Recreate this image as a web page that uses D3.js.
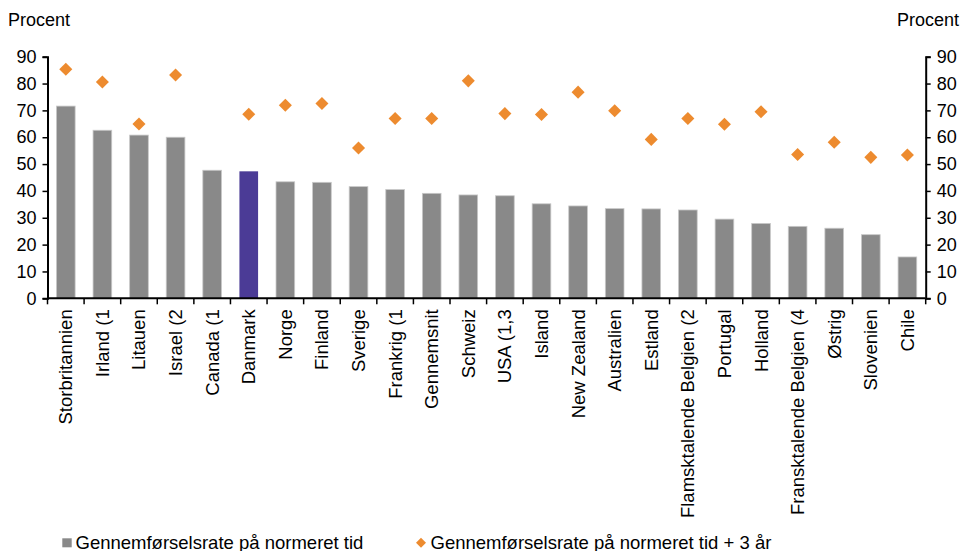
<!DOCTYPE html>
<html><head><meta charset="utf-8">
<script src="https://cdn.jsdelivr.net/npm/d3@7"></script>
<style>body{margin:0;background:#fff;}text{font-family:"Liberation Sans",Arial,sans-serif;}</style>
</head><body>
<svg id="c" width="963" height="551"></svg>
<script>
const categories = ["Storbritannien","Irland (1","Litauen","Israel (2","Canada (1","Danmark","Norge","Finland","Sverige","Frankrig (1","Gennemsnit","Schweiz","USA (1,3","Island","New Zealand","Australien","Estland","Flamsktalende Belgien (2","Portugal","Holland","Fransktalende Belgien (4","Østrig","Slovenien","Chile"];
const onTime = [71.6,62.6,60.8,60.0,47.7,47.3,43.4,43.2,41.6,40.5,39.1,38.5,38.2,35.2,34.4,33.4,33.3,32.9,29.5,27.9,26.8,26.1,23.7,15.4];
const onTime3 = [85.3,80.6,64.9,83.2,null,68.6,71.9,72.6,56.0,67.0,67.0,81.0,68.8,68.5,76.8,69.9,59.2,67.0,64.8,69.5,53.6,58.1,52.5,53.4];
const yTicks = [0,10,20,30,40,50,60,70,80,90];
const seriesNames = ["Gennemførselsrate på normeret tid","Gennemførselsrate på normeret tid + 3 år"];
const highlight = "Danmark";
</script>
<script>
const svg = d3.select("#c");
const L = 47.5, R = 925.7, T = 56.7, B = 298.3;
const x = d3.scaleBand().domain(categories).range([L,R]).paddingInner(0.49).paddingOuter(0.245);
const xb = d3.scaleBand().domain(categories).range([L,R]);
const y = d3.scaleLinear().domain([0,90]).range([B,T]);
const barData = categories.map((c,i)=>({c,v:onTime[i]}));
svg.append("g").selectAll("rect").data(barData.filter(d=>d.v!=null)).join("rect")
  .attr("x",d=>x(d.c)).attr("width",x.bandwidth())
  .attr("y",d=>y(d.v)).attr("height",d=>y(0)-y(d.v))
  .attr("fill",d=>d.c===highlight?"#4b3b96":"#898989")
  .attr("stroke",d=>d.c===highlight?"none":"#c8c8c8").attr("stroke-width",0.8);
const dia = d3.symbol().type(d3.symbolSquare).size(85);
const ptData = categories.map((c,i)=>({c,v:onTime3[i]})).filter(d=>d.v!=null);
svg.append("g").selectAll("path").data(ptData).join("path")
  .attr("d",dia).attr("transform",d=>`translate(${x(d.c)+x.bandwidth()/2},${y(d.v)}) rotate(45)`)
  .attr("fill","#ED8B2F");
// axes
const gl = svg.append("g").attr("transform",`translate(${L},0)`).call(d3.axisLeft(y).tickValues(yTicks).tickSize(5).tickPadding(6));
const gr = svg.append("g").attr("transform",`translate(${R},0)`).call(d3.axisRight(y).tickValues(yTicks).tickSize(5).tickPadding(6));
const gx = svg.append("g").attr("transform",`translate(0,${B})`).call(d3.axisBottom(x).tickSize(0).tickPadding(0));
[gl,gr,gx].forEach(g=>{g.select(".domain").attr("stroke","#000").attr("stroke-width",2);g.selectAll(".tick line").attr("stroke","#000").attr("stroke-width",1.5);g.selectAll("text").attr("font-size",18).attr("fill","#000").attr("font-family","Liberation Sans, Arial, sans-serif");});
gx.select(".domain").attr("d",`M${L},0H${R}`);
gx.selectAll(".tick text").attr("font-size",18.5).attr("transform","rotate(-90)").attr("text-anchor","end").attr("x",-11).attr("y",0).attr("dy","0.35em");
// category boundary ticks
svg.append("g").selectAll("line").data(d3.range(categories.length+1)).join("line")
  .attr("x1",i=>L+i*xb.step()).attr("x2",i=>L+i*xb.step()).attr("y1",B).attr("y2",B+6)
  .attr("stroke","#000").attr("stroke-width",1.5);
// titles
svg.append("text").attr("x",8).attr("y",26).attr("font-size",18).text("Procent");
svg.append("text").attr("x",959).attr("y",26).attr("font-size",18).attr("text-anchor","end").text("Procent");
// legend
const lg = svg.append("g");
lg.append("rect").attr("x",62.3).attr("y",538.3).attr("width",9.4).attr("height",9).attr("fill","#898989");
lg.append("text").attr("x",75.5).attr("y",548.5).attr("font-size",18.5).text(seriesNames[0]);
lg.append("path").attr("d",d3.symbol().type(d3.symbolSquare).size(50)).attr("transform","translate(421,542.7) rotate(45)").attr("fill","#ED8B2F");
lg.append("text").attr("x",430.5).attr("y",548.5).attr("font-size",18.5).text(seriesNames[1]);
</script>
</body></html>
